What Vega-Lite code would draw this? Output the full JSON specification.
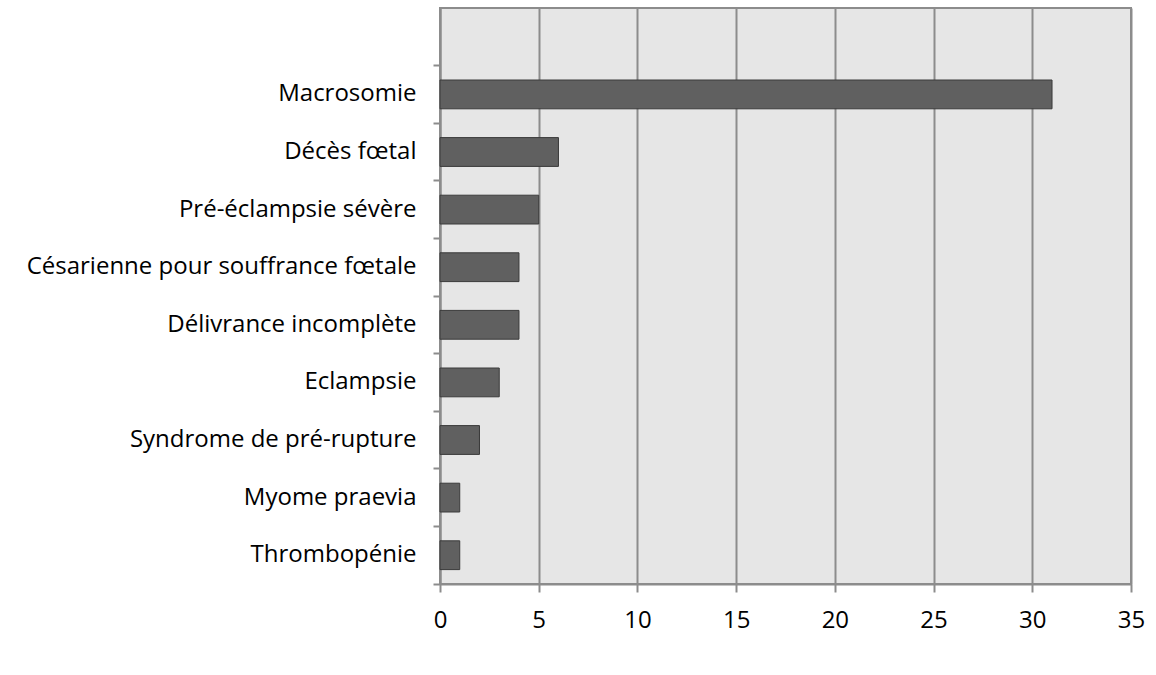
{
  "$schema": "https://vega.github.io/schema/vega-lite/v6.json",
  "autosize": "none",
  "width": 691,
  "height": 576,
  "padding": {"left": 440, "top": 8, "right": 25, "bottom": 91},
  "background": "#ffffff",
  "data": {
    "values": [
      {"cat": "Macrosomie", "val": 31},
      {"cat": "Décès fœtal", "val": 6},
      {"cat": "Pré-éclampsie sévère", "val": 5},
      {"cat": "Césarienne pour souffrance fœtale", "val": 4},
      {"cat": "Délivrance incomplète", "val": 4},
      {"cat": "Eclampsie", "val": 3},
      {"cat": "Syndrome de pré-rupture", "val": 2},
      {"cat": "Myome praevia", "val": 1},
      {"cat": "Thrombopénie", "val": 1}
    ]
  },
  "mark": {"type": "bar", "height": {"band": 0.5}, "fill": "#606060", "stroke": "#3a3a3a", "strokeWidth": 1},
  "encoding": {
    "y": {
      "field": "cat",
      "type": "nominal",
      "scale": {
        "domain": [" ", "Macrosomie", "Décès fœtal", "Pré-éclampsie sévère", "Césarienne pour souffrance fœtale", "Délivrance incomplète", "Eclampsie", "Syndrome de pré-rupture", "Myome praevia", "Thrombopénie"],
        "paddingInner": 0,
        "paddingOuter": 0
      },
      "axis": {
        "title": null,
        "bandPosition": 1,
        "tickSize": 7,
        "tickColor": "#8c8c8c",
        "tickWidth": 2,
        "domainColor": "#8c8c8c",
        "domainWidth": 2,
        "labelPadding": 17,
        "labelFont": "Open Sans",
        "labelFontSize": 24,
        "labelColor": "#000000",
        "labelLimit": 500,
        "grid": false
      }
    },
    "x": {
      "field": "val",
      "type": "quantitative",
      "scale": {"domain": [0, 35], "nice": false, "zero": true},
      "axis": {
        "title": null,
        "values": [0, 5, 10, 15, 20, 25, 30, 35],
        "grid": true,
        "gridColor": "#8c8c8c",
        "gridWidth": 2,
        "tickSize": 8,
        "tickColor": "#8c8c8c",
        "tickWidth": 2,
        "domainColor": "#8c8c8c",
        "domainWidth": 2,
        "labelPadding": 16,
        "labelFont": "Open Sans",
        "labelFontSize": 24,
        "labelColor": "#000000",
        "labelFlush": false
      }
    }
  },
  "config": {
    "view": {"fill": "#e6e6e6", "stroke": "#8c8c8c", "strokeWidth": 2}
  }
}
